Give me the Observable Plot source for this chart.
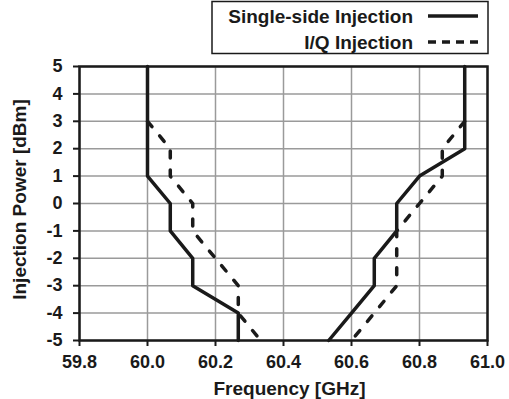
<!DOCTYPE html>
<html><head><meta charset="utf-8">
<script src="https://cdn.jsdelivr.net/npm/d3@7"></script>
<script src="https://cdn.jsdelivr.net/npm/@observablehq/plot@0.6"></script>
<style>
body{margin:0;background:#fff;}
#wrap{position:relative;width:509px;height:399px;font-family:"Liberation Sans",Arial,sans-serif;font-weight:bold;color:#1a1a1a;}
#legend{position:absolute;left:0;top:0;}
</style></head><body><div id="wrap"></div>
<script>
const seriesNames = ["Single-side Injection", "I/Q Injection"];
const singlePower = [5, 4, 3, 2, 1, 0, -1, -2, -3, -4, -5];
const singleLeft  = [60.0, 60.0, 60.0, 60.0, 60.0, 60.067, 60.067, 60.133, 60.133, 60.267, 60.267];
const singleRight = [60.933, 60.933, 60.933, 60.933, 60.8, 60.733, 60.733, 60.667, 60.667, 60.6, 60.533];
const iqPower = [3, 2, 1, 0, -1, -2, -3, -4, -5];
const iqLeft  = [60.0, 60.067, 60.067, 60.133, 60.133, 60.2, 60.267, 60.267, 60.333];
const iqRight = [60.933, 60.867, 60.867, 60.8, 60.733, 60.733, 60.733, 60.667, 60.6];
const xTicks = [59.8, 60.0, 60.2, 60.4, 60.6, 60.8, 61.0];
const yTicks = [-5, -4, -3, -2, -1, 0, 1, 2, 3, 4, 5];
const xTitle = "Frequency [GHz]";
const yTitle = "Injection Power [dBm]";

const single = [
  ...singlePower.map((p, i) => ({side: "L", f: singleLeft[i], p})),
  ...singlePower.map((p, i) => ({side: "R", f: singleRight[i], p}))
];
const iq = [
  ...iqPower.map((p, i) => ({side: "L", f: iqLeft[i], p})),
  ...iqPower.map((p, i) => ({side: "R", f: iqRight[i], p}))
];

const font = "'Liberation Sans', Arial, sans-serif";
const ink = "#1a1a1a";

const chart = Plot.plot({
  width: 509, height: 399,
  marginLeft: 79, marginRight: 22, marginTop: 66, marginBottom: 59,
  style: {fontFamily: font, fontWeight: "bold", fontSize: "18px", color: ink, background: "#fff", overflow: "visible"},
  x: {domain: [59.8, 61.0]},
  y: {domain: [-5, 5]},
  marks: [
    Plot.gridX(xTicks, {stroke: "#9a9a9a", strokeOpacity: 1, strokeWidth: 1.5}),
    Plot.gridY(yTicks, {stroke: "#9a9a9a", strokeOpacity: 1, strokeWidth: 1.5}),
    Plot.line(iq, {x: "f", y: "p", z: "side", stroke: ink, strokeWidth: 3.5, strokeDasharray: "7,12"}),
    Plot.line(single, {x: "f", y: "p", z: "side", stroke: ink, strokeWidth: 3.5}),
    Plot.frame({stroke: ink, strokeWidth: 2.5}),
    Plot.axisX(xTicks, {tickFormat: d3.format(".1f"), tickSize: 6, tickPadding: 9, label: null, stroke: ink, strokeWidth: 2, fontSize: 18}),
    Plot.axisY(yTicks, {tickFormat: d => String(d), tickSize: 6, tickPadding: 11, label: null, stroke: ink, strokeWidth: 2, fontSize: 18}),
    Plot.text([xTitle], {frameAnchor: "bottom", textAnchor: "middle", dx: 6, dy: 54, lineAnchor: "bottom", fontSize: 19, fontWeight: "bold", fill: ink}),
    Plot.text([yTitle], {frameAnchor: "left", textAnchor: "middle", rotate: -90, dx: -54, dy: -4, lineAnchor: "bottom", fontSize: 19, fontWeight: "bold", fill: ink})
  ]
});
const wrap = document.getElementById("wrap");
wrap.appendChild(chart);

// legend
const lg = d3.select(wrap).append("svg").attr("id", "legend").attr("width", 509).attr("height", 66);
lg.append("rect").attr("x", 212).attr("y", 1.5).attr("width", 276).attr("height", 52)
  .attr("fill", "#fff").attr("stroke", ink).attr("stroke-width", 1.5);
const rows = [{name: seriesNames[0], y: 16, dash: null}, {name: seriesNames[1], y: 42, dash: "8,6"}];
rows.forEach(r => {
  lg.append("text").attr("x", 413).attr("y", r.y).attr("text-anchor", "end").attr("dy", "0.35em")
    .attr("font-family", font).attr("font-weight", "bold").attr("font-size", 19).attr("fill", ink).text(r.name);
  const l = lg.append("line").attr("x1", 428).attr("x2", 478).attr("y1", r.y).attr("y2", r.y)
    .attr("stroke", ink).attr("stroke-width", 3.5);
  if (r.dash) l.attr("stroke-dasharray", r.dash);
});
</script></body></html>
